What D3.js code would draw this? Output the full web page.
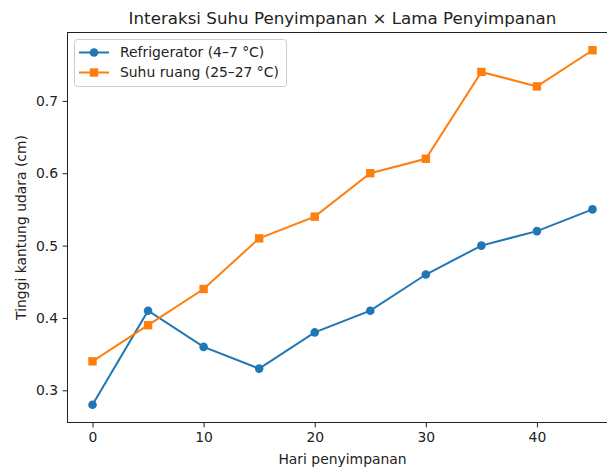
<!DOCTYPE html>
<html>
<head>
<meta charset="utf-8">
<script src="https://cdn.jsdelivr.net/npm/d3@7"></script>
<style>
  body { margin: 0; background: #fff; }
  text { font-family: "DejaVu Sans", sans-serif; fill: #222; }
</style>
</head>
<body>
<svg id="chart" width="607" height="470"></svg>
<script>
const days = [0, 5, 10, 15, 20, 25, 30, 35, 40, 45];
const fridge = [0.28, 0.41, 0.36, 0.33, 0.38, 0.41, 0.46, 0.50, 0.52, 0.55];
const room = [0.34, 0.39, 0.44, 0.51, 0.54, 0.60, 0.62, 0.74, 0.72, 0.77];
const xTicks = [0, 10, 20, 30, 40];
const yTicks = [0.3, 0.4, 0.5, 0.6, 0.7];

const series = [
    { name: "Refrigerator (4\u20137 \u00b0C)", values: fridge, color: "#1f77b4", marker: "circle" },
    { name: "Suhu ruang (25\u201327 \u00b0C)", values: room, color: "#ff7f0e", marker: "square" }
];

const margin = { left: 67.5, top: 32.5, right: 617.5, bottom: 422.5 };
const svg = d3.select("#chart");

// matplotlib-like 5% padding
const xPad = (d3.max(days) - d3.min(days)) * 0.05;
const allY = fridge.concat(room);
const yPad = (d3.max(allY) - d3.min(allY)) * 0.05;

const x = d3.scaleLinear()
    .domain([d3.min(days) - xPad, d3.max(days) + xPad])
    .range([margin.left, margin.right]);
const y = d3.scaleLinear()
    .domain([d3.min(allY) - yPad, d3.max(allY) + yPad])
    .range([margin.bottom, margin.top]);

// axes
const xAxis = svg.append("g")
    .attr("transform", `translate(0,${margin.bottom})`)
    .call(d3.axisBottom(x).tickValues(xTicks).tickFormat(d3.format("d")).tickSize(4.9).tickPadding(4.5));
const yAxis = svg.append("g")
    .attr("transform", `translate(${margin.left},0)`)
    .call(d3.axisLeft(y).tickValues(yTicks).tickFormat(d3.format(".1f")).tickSize(4.9).tickPadding(4.5));
[xAxis, yAxis].forEach(a => {
    a.select(".domain").remove();
    a.selectAll(".tick line").attr("stroke", "#222").attr("stroke-width", 1);
    a.selectAll("text").style("font-size", "13.9px").style("font-family", "DejaVu Sans").attr("fill", "#222");
});

// frame
svg.append("rect")
    .attr("x", margin.left).attr("y", margin.top)
    .attr("width", margin.right - margin.left)
    .attr("height", margin.bottom - margin.top)
    .attr("fill", "none").attr("stroke", "#222").attr("stroke-width", 1);

const line = d3.line()
    .x((d, i) => x(days[i]))
    .y(d => y(d));

series.forEach(s => {
    svg.append("path")
        .attr("fill", "none")
        .attr("stroke", s.color)
        .attr("stroke-width", 2)
        .attr("d", line(s.values));
    const g = svg.append("g");
    if (s.marker === "circle") {
        g.selectAll("circle").data(s.values).enter().append("circle")
            .attr("cx", (d, i) => x(days[i]))
            .attr("cy", d => y(d))
            .attr("r", 4.3)
            .attr("fill", s.color);
    } else {
        g.selectAll("rect").data(s.values).enter().append("rect")
            .attr("x", (d, i) => x(days[i]) - 4.2)
            .attr("y", d => y(d) - 4.2)
            .attr("width", 8.4).attr("height", 8.4)
            .attr("fill", s.color);
    }
});

// title and labels
svg.append("text")
    .attr("x", (margin.left + margin.right) / 2).attr("y", 24)
    .attr("text-anchor", "middle")
    .style("font-size", "16.7px")
    .text("Interaksi Suhu Penyimpanan \u00d7 Lama Penyimpanan");
svg.append("text")
    .attr("x", (margin.left + margin.right) / 2).attr("y", 464)
    .attr("text-anchor", "middle")
    .style("font-size", "13.9px")
    .text("Hari penyimpanan");
svg.append("text")
    .attr("transform", `translate(26,${(margin.top + margin.bottom) / 2}) rotate(-90)`)
    .attr("text-anchor", "middle")
    .style("font-size", "13.9px")
    .text("Tinggi kantung udara (cm)");

// legend
const legend = svg.append("g");
legend.append("rect")
    .attr("x", 74.5).attr("y", 39.5).attr("width", 212).attr("height", 47)
    .attr("rx", 3)
    .attr("fill", "#fff").attr("fill-opacity", 0.8)
    .attr("stroke", "#ccc").attr("stroke-width", 1);
series.forEach((s, i) => {
    const cy = 52.5 + i * 20;
    legend.append("line")
        .attr("x1", 79).attr("x2", 109).attr("y1", cy).attr("y2", cy)
        .attr("stroke", s.color).attr("stroke-width", 2);
    if (s.marker === "circle") {
        legend.append("circle").attr("cx", 94).attr("cy", cy).attr("r", 4.3).attr("fill", s.color);
    } else {
        legend.append("rect").attr("x", 94 - 4.2).attr("y", cy - 4.2).attr("width", 8.4).attr("height", 8.4).attr("fill", s.color);
    }
    legend.append("text")
        .attr("x", 120).attr("y", cy).attr("dy", "0.35em")
        .style("font-size", "13.9px")
        .text(s.name);
});
</script>
</body>
</html>
